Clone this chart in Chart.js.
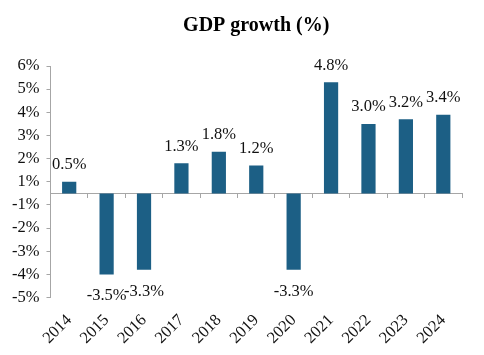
<!DOCTYPE html>
<html>
<head>
<meta charset="utf-8">
<script src="https://cdn.jsdelivr.net/npm/chart.js@4/dist/chart.umd.min.js"></script>
<style>
html,body{margin:0;padding:0;background:#ffffff;}
#wrap{width:484px;height:355px;}
</style>
</head>
<body>
<div id="wrap"><canvas id="c" width="484" height="355"></canvas></div>
<script>
const chartTitle = 'GDP growth (%)';
const years = ['2014','2015','2016','2017','2018','2019','2020','2021','2022','2023','2024'];
const growth = [0.5, -3.5, -3.3, 1.3, 1.8, 1.2, -3.3, 4.8, 3.0, 3.2, 3.4];
const yTickValues = [5.5, 4.5, 3.5, 2.5, 1.5, 0.5, -0.5, -1.5, -2.5, -3.5, -4.5];
const yTickLabels = ['6%','5%','4%','3%','2%','1%','-1%','-2%','-3%','-4%','-5%'];

const serif = '"Liberation Serif", "Times New Roman", serif';
const axisGrey = '#a6a6a6';
const barColor = '#1c5f85';

const valueLabels = {
  id: 'valueLabels',
  afterDatasetsDraw(chart) {
    const ctx = chart.ctx;
    const meta = chart.getDatasetMeta(0);
    ctx.save();
    ctx.font = '16.5px ' + serif;
    ctx.fillStyle = '#111111';
    ctx.textAlign = 'center';
    ctx.textBaseline = 'alphabetic';
    meta.data.forEach((bar, i) => {
      const v = growth[i];
      const txt = v.toFixed(1) + '%';
      const y = v >= 0 ? bar.y - 12.5 : bar.y + 26;
      ctx.fillText(txt, bar.x, y);
    });
    ctx.restore();
  }
};

new Chart(document.getElementById('c'), {
  type: 'bar',
  data: {
    labels: years,
    datasets: [{
      data: growth,
      backgroundColor: barColor,
      borderWidth: 0,
      barPercentage: 0.38,
      categoryPercentage: 1.0
    }]
  },
  options: {
    responsive: false,
    animation: false,
    devicePixelRatio: 1,
    layout: { padding: { left: 5, right: 22, top: 0, bottom: 2 } },
    plugins: {
      legend: { display: false },
      tooltip: { enabled: false },
      title: {
        display: true,
        text: chartTitle,
        fullSize: false,
        color: '#000000',
        font: { family: serif, size: 20, weight: 'bold' },
        padding: { top: 14, bottom: 28 }
      }
    },
    scales: {
      x: {
        grid: { display: false },
        border: { display: false },
        ticks: {
          color: '#111111',
          font: { family: serif, size: 16.5 },
          maxRotation: 45,
          minRotation: 45,
          padding: 5,
          autoSkip: false
        }
      },
      x2: {
        type: 'category',
        axis: 'x',
        labels: years,
        position: { y: 0 },
        offset: true,
        grid: { display: true, drawOnChartArea: false, drawTicks: true, tickLength: 4, offset: true, color: axisGrey },
        border: { display: true, color: axisGrey, width: 1 },
        ticks: { display: false }
      },
      y: {
        min: -4.5,
        max: 5.5,
        afterBuildTicks: (scale) => { scale.ticks = yTickValues.map(v => ({ value: v })); },
        grid: { drawOnChartArea: false, drawTicks: true, tickLength: 4, color: axisGrey },
        border: { display: true, color: axisGrey },
        ticks: {
          color: '#111111',
          font: { family: serif, size: 16.5 },
          padding: 7,
          callback: (value) => yTickLabels[yTickValues.indexOf(value)]
        }
      }
    }
  },
  plugins: [valueLabels]
});
</script>
</body>
</html>
